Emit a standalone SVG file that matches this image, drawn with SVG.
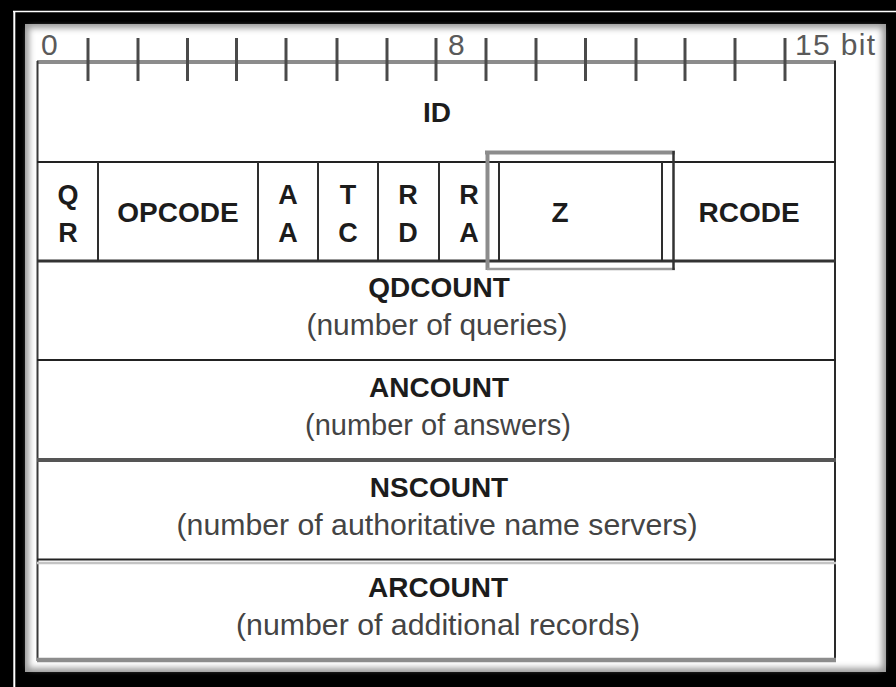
<svg xmlns="http://www.w3.org/2000/svg" width="896" height="687" viewBox="0 0 896 687">
<defs>
  <filter id="soft" x="-5%" y="-5%" width="110%" height="110%">
    <feGaussianBlur stdDeviation="3"/>
  </filter>
  <style>
    .b{font-family:"Liberation Sans",Arial,sans-serif;font-weight:bold;font-size:28px;fill:#1c1c1c;text-anchor:middle}
    .f{font-family:"Liberation Sans",Arial,sans-serif;font-weight:bold;font-size:27px;fill:#1c1c1c;text-anchor:middle}
    .s{font-family:"Liberation Sans",Arial,sans-serif;font-size:29px;fill:#444;text-anchor:middle}
    .r{font-family:"Liberation Sans",Arial,sans-serif;font-size:30px;fill:#5a5a5a}
    .tick{stroke:#4a4a4a;stroke-width:3}
    .vl{stroke:#2e2e2e;stroke-width:2}
  </style>
</defs>
<!-- frame -->
<rect x="0" y="0" width="896" height="687" fill="#000"/>
<line x1="13" y1="11.5" x2="896" y2="11.5" stroke="#fff" stroke-width="1.6"/>
<line x1="14.3" y1="11" x2="14.3" y2="687" stroke="#fff" stroke-width="2"/>
<rect x="25" y="24" width="861" height="648" fill="#9a9a9a"/>
<rect x="29" y="28" width="853" height="640" fill="#fff" filter="url(#soft)"/>

<!-- ruler -->
<g id="ruler">
  <line x1="37" y1="62" x2="836" y2="62" stroke="#8c8c8c" stroke-width="4"/>
  <g class="tick">
    <line x1="88" y1="38" x2="88" y2="81"/>
    <line x1="138" y1="38" x2="138" y2="81"/>
    <line x1="187.5" y1="38" x2="187.5" y2="81"/>
    <line x1="236.5" y1="38" x2="236.5" y2="81"/>
    <line x1="286" y1="38" x2="286" y2="81"/>
    <line x1="337" y1="38" x2="337" y2="81"/>
    <line x1="387" y1="38" x2="387" y2="81"/>
    <line x1="436" y1="38" x2="436" y2="81"/>
    <line x1="486" y1="38" x2="486" y2="81"/>
    <line x1="536" y1="38" x2="536" y2="81"/>
    <line x1="585.5" y1="38" x2="585.5" y2="81"/>
    <line x1="636" y1="38" x2="636" y2="81"/>
    <line x1="685" y1="38" x2="685" y2="81"/>
    <line x1="735" y1="38" x2="735" y2="81"/>
    <line x1="785" y1="38" x2="785" y2="81"/>
  </g>
  <text class="r" x="41" y="55">0</text>
  <text class="r" x="448" y="55">8</text>
  <text class="r" x="795" y="55" textLength="80">15 bit</text>
</g>

<!-- body borders -->
<g id="borders">
  <line x1="37.5" y1="61" x2="37.5" y2="661" stroke="#3a3a3a" stroke-width="2"/>
  <line x1="835" y1="61" x2="835" y2="661" stroke="#2a2a2a" stroke-width="2"/>
  <line x1="37" y1="162" x2="836" y2="162" stroke="#222" stroke-width="1.8"/>
  <line x1="37" y1="261" x2="836" y2="261" stroke="#333" stroke-width="3"/>
  <line x1="37" y1="360" x2="836" y2="360" stroke="#222" stroke-width="1.8"/>
  <line x1="37" y1="460" x2="836" y2="460" stroke="#555" stroke-width="4"/>
  <line x1="37" y1="559.5" x2="836" y2="559.5" stroke="#222" stroke-width="1.8"/>
  <line x1="37" y1="563" x2="836" y2="563" stroke="#c4c4c4" stroke-width="2.5"/>
  <line x1="37" y1="660" x2="836" y2="660" stroke="#8c8c8c" stroke-width="4.5"/>
</g>

<!-- ID -->
<g id="id">
  <text class="b" x="437" y="122">ID</text>
</g>

<!-- flag row -->
<g id="flags-lines">
  <line class="vl" x1="98" y1="162" x2="98" y2="261"/>
  <line class="vl" x1="258" y1="162" x2="258" y2="261"/>
  <line class="vl" x1="318" y1="162" x2="318" y2="261"/>
  <line class="vl" x1="378" y1="162" x2="378" y2="261"/>
  <line class="vl" x1="439" y1="162" x2="439" y2="261"/>
  <line class="vl" x1="499" y1="162" x2="499" y2="261"/>
  <line class="vl" x1="662" y1="162" x2="662" y2="261"/>
</g>
<g id="qr"><text class="f" x="68" y="204">Q</text><text class="f" x="68" y="242">R</text></g>
<g id="opcode"><text class="b" x="178" y="222">OPCODE</text></g>
<g id="aa"><text class="f" x="288" y="204">A</text><text class="f" x="288" y="242">A</text></g>
<g id="tc"><text class="f" x="348" y="204">T</text><text class="f" x="348" y="242">C</text></g>
<g id="rd"><text class="f" x="408" y="204">R</text><text class="f" x="408" y="242">D</text></g>
<g id="ra"><text class="f" x="469" y="204">R</text><text class="f" x="469" y="242">A</text></g>
<g id="z"><text class="b" x="560" y="222">Z</text></g>
<g id="rcode"><text class="b" x="749" y="222">RCODE</text></g>

<!-- highlight around Z -->
<g id="z-highlight" fill="none">
  <line x1="485" y1="152.5" x2="675" y2="152.5" stroke="#8c8c8c" stroke-width="4"/>
  <line x1="487.5" y1="151" x2="487.5" y2="270" stroke="#8c8c8c" stroke-width="4"/>
  <line x1="487" y1="269" x2="675" y2="269" stroke="#9a9a9a" stroke-width="2.5"/>
  <line x1="673.5" y1="151" x2="673.5" y2="270" stroke="#333" stroke-width="2.5"/>
</g>

<!-- count rows -->
<g id="qdcount">
  <text class="b" x="439" y="297">QDCOUNT</text>
  <text class="s" x="437" y="335" textLength="261" lengthAdjust="spacingAndGlyphs">(number of queries)</text>
</g>
<g id="ancount">
  <text class="b" x="439" y="397">ANCOUNT</text>
  <text class="s" x="438" y="435">(number of answers)</text>
</g>
<g id="nscount">
  <text class="b" x="439" y="497">NSCOUNT</text>
  <text class="s" x="437" y="535" textLength="521" lengthAdjust="spacingAndGlyphs">(number of authoritative name servers)</text>
</g>
<g id="arcount">
  <text class="b" x="438" y="597">ARCOUNT</text>
  <text class="s" x="438" y="635" textLength="404" lengthAdjust="spacingAndGlyphs">(number of additional records)</text>
</g>
</svg>
